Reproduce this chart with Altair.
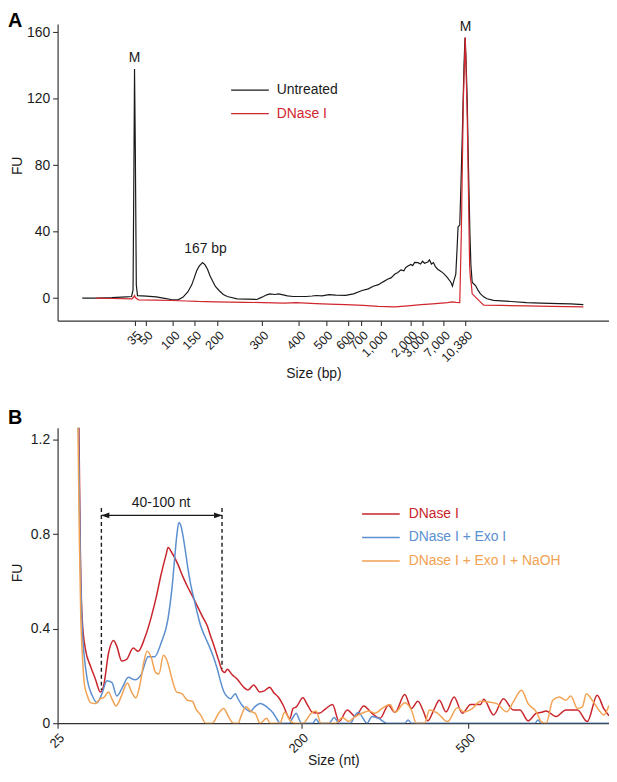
import json
import altair as alt
import pandas as pd

FONT = "Liberation Sans"
INK = "#1a1a1a"
AXIS = "#333333"

W = 556
A_H = 299
B_H = 298

# ---------------- Panel A : Bioanalyzer trace (x = migration position) ----------------
A_TICK_POS = [78, 89.7, 117, 139, 162, 207, 244.7, 272, 294.7, 308, 328, 358, 370, 391, 413.7]
A_TICK_LABELS = ["35", "50", "100", "150", "200", "300", "400", "500", "600", "700",
                 "1,000", "2,000", "3,000", "7,000", "10,380"]
A_YTICKS = [0, 40, 80, 120, 160]
A_SERIES = ["Untreated", "DNase I"]
A_COLORS = ["#1a1a1a", "#d1262e"]

A_UNTREATED = [
    (25, 0), (40, 0), (55, 0.3), (70, 0.8), (75, 1), (76.5, 5), (77.5, 90), (78, 138),
    (78.8, 90), (79.8, 8), (81, 1.5), (90, 1.2), (100, 0.8), (110, -0.3), (115, -0.8),
    (122, -1), (127, 0.5), (132, 3.7), (136, 8), (138.7, 12.5), (141, 16.5), (143.7, 19.4),
    (147, 21.4), (149.5, 20), (152, 17.4), (154.5, 13.5), (157, 10.5), (160, 7),
    (163.7, 4.6), (168, 2.2), (172, 1), (182, -0.4), (192, -0.6), (202, -0.8), (205, 0),
    (208.7, 1), (212, 2), (215.3, 2.6), (220, 2.2), (224, 2.6), (228.7, 2), (233, 1.4),
    (238.7, 1), (245, 1), (252, 1), (258, 1.3), (262, 1.6), (268, 1.4), (275.3, 2.1),
    (282, 1.8), (292, 1.7), (300, 2.6), (308.7, 4.6), (315, 5.6), (320, 7.2), (325.3, 8.1),
    (330, 9.8), (335, 11.5), (338, 12.2), (342, 14.5), (345, 15.5), (348, 17), (351, 16.5),
    (353, 18.5), (355.3, 19.4), (358, 20.3), (360, 19.6), (362, 21.5), (365.3, 21.4),
    (368, 20.6), (370, 22.2), (372, 21), (375.3, 21.8), (377, 23), (379, 20.5), (381, 21.4),
    (383, 19), (385.3, 17.4), (388, 16.4), (390, 15.5), (392, 14.5), (395, 12.5),
    (398.7, 9.6), (400.3, 7.2), (401.5, 10), (403.7, 14.5), (405, 30), (406, 43),
    (407.7, 44), (409, 70), (410.3, 98.5), (412, 140), (413, 156.8), (414, 145),
    (415.3, 118), (416.5, 80), (418, 39), (419, 20), (420.3, 9.6), (422, 8.5), (423.7, 7.6),
    (426, 5), (428.7, 2.6), (432, 0.8), (435.3, -0.4), (442, -1.3), (450, -1.6), (460, -2),
    (475.3, -2.7), (490, -3), (508.7, -3.3), (520, -3.5), (533, -3.9),
]
A_DNASE = [
    (38.7, 0), (55, -0.2), (75.3, -0.4), (77, 0.5), (78, 1.5), (79, 0.2), (82, -1),
    (100, -1.2), (115, -1.4), (130, -1.7), (142, -2), (160, -2.2), (175, -2.4), (190, -2.5),
    (208.7, -2.7), (230, -3), (242, -2.7), (262, -3.3), (275, -3.6), (292, -3.9),
    (310, -4.4), (325, -5), (342, -5.3), (355, -4.6), (368.7, -3.9), (380, -3.4),
    (395.3, -2.7), (400, -2.2), (404, -2.5), (407.7, -2.7), (409.3, 39), (411.3, 118),
    (413.3, 157), (415.3, 108.5), (417.7, 19.5), (418.5, 12), (419.5, 8), (420.3, 2.6),
    (423.7, 0.6), (427, -1.3), (432, -4.2), (450, -4.4), (475.3, -4.6), (500, -5), (533, -5.3),
]
A_PEAK_LABELS = ["M", "167 bp", "M"]
A_PEAK_T = [78, 150, 413.5]
A_PEAK_FU = [144.5, 29.5, 163]

# ---------------- Panel B ----------------
B_TICK_POS = [0, 247.4, 416.7]
B_TICK_LABELS = ["25", "200", "500"]
B_YTICKS = [0, 0.4, 0.8, 1.2]
B_SERIES = ["DNase I", "DNase I + Exo I", "DNase I + Exo I + NaOH"]
B_COLORS = ["#c9252c", "#5b8fd0", "#f2a252"]

B_DNASE = [
    (21.5, 1.3), (23, 0.75), (25, 0.436), (28.3, 0.311), (33.3, 0.242), (38.3, 0.187),
    (43.3, 0.132), (46.7, 0.159), (51.7, 0.298), (56.7, 0.350), (60, 0.326), (65, 0.263),
    (70, 0.270), (76.7, 0.318), (81.7, 0.304), (88.3, 0.360), (95, 0.45), (100, 0.533),
    (105, 0.63), (110, 0.713), (112, 0.743), (116, 0.72), (122, 0.672), (127, 0.62),
    (132, 0.575), (137, 0.535), (142, 0.492), (147, 0.45), (152, 0.409), (155, 0.37),
    (158.7, 0.326), (163, 0.27), (167, 0.222), (169.5, 0.215), (172, 0.228), (177, 0.205),
    (182, 0.187), (188.7, 0.152), (193, 0.14), (198.7, 0.162), (205, 0.132), (210, 0.138),
    (215, 0.152), (219, 0.13), (223.7, 0.111), (228.7, 0.076), (233.7, 0.028), (235.3, 0.018),
    (238.7, 0.062), (242, 0.069), (248.7, 0.108), (253, 0.08), (258.7, 0.045), (265.3, 0.042),
    (272, 0.062), (278.7, 0.079), (285.3, 0.007), (293.7, 0.056), (302, 0.028),
    (310.3, 0.073), (318.7, 0.042), (327, 0.021), (335.3, 0.076), (342, 0.046), (352, 0.121),
    (358.7, 0.062), (365.3, 0.093), (370.3, 0.056), (375.3, 0.01), (382, 0.062), (387, 0.097),
    (393.7, 0.048), (402, 0.111), (410.3, 0.042), (418.7, 0.079), (428.7, 0.079),
    (432, 0.101), (442, 0.035), (452, 0.104), (462, 0.056), (468.7, 0.056), (477, 0.01),
    (485.3, 0.042), (490.3, 0.046), (495.3, 0.052), (505.3, 0.028), (515.3, 0.056),
    (527, 0.056), (537, 0.007), (547, 0.118), (553.7, 0.062), (559, 0.032),
]
B_EXO = [
    (21, 1.3), (23, 0.7), (25, 0.40), (26.7, 0.298), (30, 0.187), (35, 0.118), (40, 0.087),
    (45, 0.125), (50, 0.180), (55, 0.173), (60, 0.115), (65, 0.145), (71.7, 0.194),
    (78.3, 0.184), (85, 0.208), (91.7, 0.281), (98.3, 0.281), (105, 0.340), (111.7, 0.436),
    (116.7, 0.602), (119, 0.713), (121, 0.8), (123, 0.849), (125, 0.835), (127, 0.796),
    (129.5, 0.73), (132, 0.658), (135, 0.585), (138.7, 0.519), (142, 0.46), (145.3, 0.409),
    (149, 0.37), (153.7, 0.326), (158, 0.28), (162, 0.228), (165, 0.18), (168.7, 0.132),
    (172, 0.112), (175.3, 0.104), (180.3, 0.125), (182, 0.111), (187, 0.076), (191, 0.06),
    (195.3, 0.049), (200, 0.07), (205.3, 0.083), (212, 0.069), (218.7, 0.042), (222, 0.02),
    (225.3, 0.0), (235, 0.0), (238, 0.02), (242, 0.042), (244.5, 0.02), (247, 0.0),
    (258.7, 0), (262, 0.018), (265.3, 0), (275.3, 0), (280.3, 0.024), (285.3, 0), (297, 0),
    (301, 0.03), (305.3, 0.046), (309, 0.025), (313.7, 0), (318.7, 0.028), (325.3, 0.021),
    (333.7, 0), (352, 0), (355.3, 0.014), (358.7, 0), (484, 0), (487, 0.014), (490, 0),
    (559, 0),
]
B_NAOH = [
    (20.5, 1.3), (22, 0.8), (23.5, 0.45), (25, 0.3), (27, 0.17), (30, 0.118), (33.3, 0.087),
    (38.3, 0.083), (43.3, 0.104), (46.7, 0.108), (51.7, 0.132), (55, 0.104), (59.3, 0.073),
    (65, 0.118), (70.7, 0.17), (75, 0.132), (79.3, 0.107), (83.3, 0.159), (87.3, 0.256),
    (90.7, 0.304), (95, 0.277), (99.3, 0.215), (102.7, 0.208), (107.3, 0.287),
    (111.7, 0.256), (116, 0.187), (120.7, 0.132), (126, 0.125), (131.7, 0.097),
    (136.7, 0.093), (140, 0.062), (145, 0.035), (150, 0), (156.7, 0), (163.3, 0.042),
    (168.3, 0.062), (173.3, 0.028), (178.3, 0), (183, 0), (186, 0.03), (191, 0.07),
    (196, 0.05), (200.3, 0.042), (205.3, 0), (212, 0.021), (215.3, 0), (225.3, 0),
    (230.3, 0.046), (235.3, 0.014), (240.3, 0), (248.7, 0), (257, 0.042), (262, 0.052),
    (267, 0), (282, 0), (288.7, 0.024), (295.3, 0.007), (300.3, 0.024), (308.7, 0.042),
    (315.3, 0.052), (322, 0.042), (328.7, 0.062), (337, 0.079), (342, 0.046), (352, 0.087),
    (358.7, 0.056), (363.7, 0), (372, 0), (377, 0.056), (385.3, 0.042), (395.3, 0.007),
    (405.3, 0.066), (412, 0.048), (420.3, 0.062), (428.7, 0.093), (437, 0.090),
    (445.3, 0.083), (455.3, 0.048), (462, 0.090), (470.3, 0.139), (477, 0.083),
    (485.3, 0.048), (490.3, 0.007), (495.3, 0), (502, 0.097), (508.7, 0.111), (515.3, 0.097),
    (520.3, 0.115), (527, 0.062), (532, 0.069), (536, 0.125), (542, 0.097), (548.7, 0.056),
    (553.7, 0.035), (559, 0.076),
]
B_RANGE_T = [44.4, 166.7]          # 40 nt and 100 nt positions
B_RANGE_BOTTOM = [0.14, 0.23]
B_RANGE_TOP = 0.91
B_ARROW_FU = 0.879
B_RANGE_LABEL = "40-100 nt"
B_RANGE_LABEL_T = 105
B_RANGE_LABEL_FU = 0.93


def label_expr(pos, labels):
    return "%s[indexof(%s, datum.value)]" % (json.dumps(labels), json.dumps(pos))


axis_common = dict(grid=False, domainColor=AXIS, tickColor=AXIS, domainWidth=1.2,
                   tickWidth=1.1, tickSize=5, labelColor=INK, titleColor=INK,
                   titleFontWeight="normal", titleFontSize=14, labelFont=FONT,
                   titleFont=FONT)

axA_x = alt.Axis(values=A_TICK_POS, labelExpr=label_expr(A_TICK_POS, A_TICK_LABELS),
                 labelAngle=315, labelAlign="right", labelBaseline="top", labelFontSize=12.5,
                 labelPadding=3, labelOverlap=False, labelFlush=False,
                 title="Size (bp)", titleX=258, titleY=46, titleBaseline="top",
                 **axis_common)
axA_y = alt.Axis(values=A_YTICKS, labelFontSize=14, labelPadding=3, title="FU",
                 titleX=-33, titleY=A_H / 2 - 7, **axis_common)
axB_x = alt.Axis(values=B_TICK_POS, labelExpr=label_expr(B_TICK_POS, B_TICK_LABELS),
                 labelAngle=315, labelAlign="right", labelBaseline="top", labelFontSize=13,
                 labelPadding=3, labelOverlap=False, labelFlush=False,
                 title="Size (nt)", titleX=W / 2, titleY=31, titleBaseline="top",
                 **axis_common)
axB_y = alt.Axis(values=B_YTICKS, format=".1~f", labelFontSize=14, labelPadding=3,
                 title="FU", titleX=-33, titleY=B_H / 2 - 3, **axis_common)

scA_x = alt.Scale(domain=[0, 559], nice=False, zero=False)
scA_y = alt.Scale(domain=[-13.5, 165], nice=False, zero=False)
scB_x = alt.Scale(domain=[0, 559], nice=False, zero=False)
scB_y = alt.Scale(domain=[0, 1.25], nice=False, zero=False)


def ax(field):
    return alt.X(field, type="quantitative", scale=scA_x, axis=axA_x)


def ay(field):
    return alt.Y(field, type="quantitative", scale=scA_y, axis=axA_y)


def bx(field):
    return alt.X(field, type="quantitative", scale=scB_x, axis=axB_x)


def by(field):
    return alt.Y(field, type="quantitative", scale=scB_y, axis=axB_y)


def series_df(pairs):
    return pd.DataFrame(pairs, columns=["t", "fu"])


def panel_label(letter, dy):
    return alt.Chart(pd.DataFrame({"p": [letter]})).mark_text(
        align="left", baseline="top", fontSize=20, fontWeight="bold", font=FONT, color="#000"
    ).encode(text="p:N", x=alt.value(-50), y=alt.value(dy))


def legend_rows(names, colors, x0, x1, xt, y0, dy, width):
    layers = []
    for i, (name, color) in enumerate(zip(names, colors)):
        d = pd.DataFrame({"name": [name]})
        yy = y0 + dy * i
        layers.append(alt.Chart(d).mark_rule(color=color, strokeWidth=width).encode(
            x=alt.value(x0), x2=alt.value(x1), y=alt.value(yy)))
        layers.append(alt.Chart(d).mark_text(align="left", baseline="middle", fontSize=14,
                                             font=FONT, color=color).encode(
            text="name:N", x=alt.value(xt), y=alt.value(yy)))
    return layers


# ----- Panel A layers -----
a_lines = [
    alt.Chart(series_df(A_UNTREATED)).mark_line(color=A_COLORS[0], strokeWidth=1.2).encode(
        x=ax("t"), y=ay("fu")),
    alt.Chart(series_df(A_DNASE)).mark_line(color=A_COLORS[1], strokeWidth=1.2).encode(
        x=ax("t"), y=ay("fu")),
]
a_peaks = alt.Chart(pd.DataFrame({"label": A_PEAK_LABELS, "t": A_PEAK_T, "fu": A_PEAK_FU})
                    ).mark_text(fontSize=14, font=FONT, color=INK, baseline="middle").encode(
    x=ax("t"), y=ay("fu"), text="label:N")

panelA = alt.layer(
    *a_lines, a_peaks,
    *legend_rows(A_SERIES, A_COLORS, 175, 213, 221, 66.6, 23.8, 1.3),
    panel_label("A", -13),
).properties(width=W, height=A_H)

# ----- Panel B layers -----
b_lines = [
    alt.Chart(series_df(pts)).mark_line(color=c, strokeWidth=1.5, clip=True,
                                         interpolate="monotone").encode(x=bx("t"), y=by("fu"))
    for pts, c in zip([B_DNASE, B_EXO, B_NAOH], B_COLORS)
]
range_df = pd.DataFrame({"t": B_RANGE_T, "top": [B_RANGE_TOP] * 2, "bottom": B_RANGE_BOTTOM})
b_dash = alt.Chart(range_df).mark_rule(color=INK, strokeWidth=1.4, strokeDash=[4, 3]).encode(
    x=bx("t"), y=by("top"), y2="bottom")
arrow_df = pd.DataFrame({"t": [B_RANGE_T[0]], "t2": [B_RANGE_T[1]], "fu": [B_ARROW_FU]})
b_arrow = alt.Chart(arrow_df).mark_rule(color=INK, strokeWidth=1.4).encode(
    x=bx("t"), x2="t2", y=by("fu"))
head_l = alt.Chart(pd.DataFrame({"t": [B_RANGE_T[0]], "fu": [B_ARROW_FU]})).mark_point(
    shape="M0,0L2,-0.75L2,0.75Z", filled=True, size=64, color=INK, opacity=1).encode(
    x=bx("t"), y=by("fu"))
head_r = alt.Chart(pd.DataFrame({"t": [B_RANGE_T[1]], "fu": [B_ARROW_FU]})).mark_point(
    shape="M0,0L-2,-0.75L-2,0.75Z", filled=True, size=64, color=INK, opacity=1).encode(
    x=bx("t"), y=by("fu"))
b_text = alt.Chart(pd.DataFrame({"label": [B_RANGE_LABEL], "t": [B_RANGE_LABEL_T],
                                 "fu": [B_RANGE_LABEL_FU]})).mark_text(
    fontSize=14, font=FONT, color=INK, baseline="middle").encode(
    x=bx("t"), y=by("fu"), text="label:N")

panelB = alt.layer(
    *b_lines, b_dash, b_arrow, head_l, head_r, b_text,
    *legend_rows(B_SERIES, B_COLORS, 307, 345, 354, 87, 23.7, 1.5),
    panel_label("B", -20),
).properties(width=W, height=B_H)

chart = alt.vconcat(panelA, panelB, spacing=28).resolve_scale(
    x="independent", y="independent"
).properties(padding=0).configure_view(stroke=None)

chart.save("out.html", embed_options={"renderer": "svg", "actions": False})
